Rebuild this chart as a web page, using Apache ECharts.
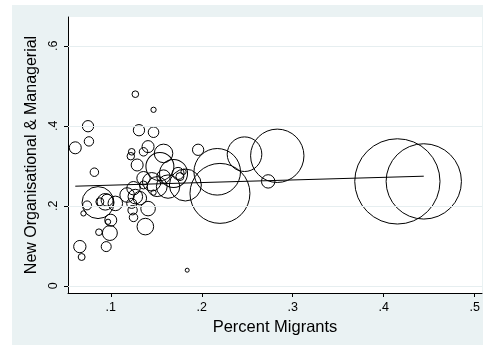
<!DOCTYPE html>
<html><head><meta charset="utf-8">
<script src="https://cdn.jsdelivr.net/npm/echarts@6/dist/echarts.min.js"></script>
<style>html,body{margin:0;padding:0;background:#fff}#c{width:483px;height:345px}</style>
</head><body><div id="c"></div>
<script>
// Percent migrants (x), New Organisational & Managerial share (y), weight (bubble area)
const migrants = [0.061,0.075,0.076,0.082,0.066,0.068,0.070,0.074,0.086,0.088,0.094,0.096,0.105,0.097,0.100,0.087,0.099,0.095,
  0.127,0.147,0.131,0.147,0.123,0.122,0.136,0.141,0.129,0.158,0.154,0.169,0.182,0.163,0.145,0.136,0.125,0.127,0.132,0.123,0.124,0.125,0.141,0.138,0.147,0.151,0.176,0.174,0.118,0.196,0.184,0.136,0.180,0.158,
  0.217,0.220,0.247,0.283,0.273,0.415,0.444];
const managerial = [0.345,0.399,0.361,0.284,0.098,0.072,0.181,0.201,0.208,0.210,0.210,0.214,0.206,0.160,0.164,0.134,0.132,0.098,
  0.479,0.440,0.389,0.384,0.335,0.324,0.335,0.348,0.302,0.331,0.298,0.281,0.252,0.248,0.260,0.269,0.244,0.223,0.219,0.206,0.189,0.171,0.193,0.148,0.233,0.248,0.273,0.281,0.227,0.340,0.039,0.252,0.285,0.273,
  0.285,0.231,0.329,0.325,0.261,0.261,0.261];
const weight = [3.6,3.2,2.2,1.8,3.8,1.2,0.7,2.0,25.6,1.6,6.9,3.6,5.3,0.7,3.6,1.1,5.6,2.5,
  1.1,0.7,3.2,2.8,1.1,1.4,1.8,3.6,3.6,8.6,19.6,19.6,25.6,13.7,8.6,4.5,4.5,5.3,4.5,2.5,2.2,1.8,5.3,6.9,0.7,10,1.6,3.6,5.3,3.2,0.4,1.6,0.7,4.5,
  54.3,90,30,71.3,4.5,182,142];
const fitX = [0.061, 0.444];
const fitY = [0.249, 0.274];
const xTicks = [0.1,0.2,0.3,0.4,0.5];
const yTicks = [0,0.2,0.4,0.6];

const pts = migrants.map((x,i)=>[x, managerial[i], weight[i]]);
const fmt = v => { let s = String(+v.toFixed(2)); return s.replace(/^0(?=\.)/,''); };

const chart = echarts.init(document.getElementById('c'), null, {renderer:'canvas'});
chart.setOption({
  animation:false,
  backgroundColor:'#ffffff',
  graphic:[{type:'rect', z:-10, shape:{x:12,y:5,width:471,height:340}, style:{fill:'#eaf2f3'}}],
  grid:{left:68, top:17, right:1, bottom:52, show:true, backgroundColor:'#ffffff', borderWidth:0},
  xAxis:{
    type:'value', min:0.053, max:0.508,
    name:'Percent Migrants', nameLocation:'middle', nameGap:19,
    nameTextStyle:{fontFamily:'Liberation Sans', fontSize:16.5, color:'#000'},
    axisLine:{show:true, onZero:false, lineStyle:{color:'#000', width:1}},
    axisTick:{show:true, customValues:xTicks, length:4, lineStyle:{color:'#000'}},
    axisLabel:{customValues:xTicks, formatter:fmt, margin:8, fontFamily:'Liberation Sans', fontSize:12.5, color:'#000'},
    splitLine:{show:false}
  },
  yAxis:{
    type:'value', min:-0.018, max:0.672,
    name:'New Organisational & Managerial', nameLocation:'middle', nameRotate:90, nameGap:18,
    nameTextStyle:{fontFamily:'Liberation Sans', fontSize:16, color:'#000'},
    axisLine:{show:true, onZero:false, lineStyle:{color:'#000', width:1}},
    axisTick:{show:true, customValues:yTicks, length:4, lineStyle:{color:'#000'}},
    axisLabel:{customValues:yTicks, formatter:fmt, rotate:90, margin:8, fontFamily:'Liberation Sans', fontSize:12.5, color:'#000'},
    splitLine:{show:false}
  },
  series:[
    {type:'line', data:yTicks.map(v=>null), silent:true, symbol:'none',
     markLine:{silent:true, symbol:'none', label:{show:false}, animation:false,
       lineStyle:{color:'#e6eef0', width:1, type:'solid'},
       data:yTicks.map(v=>({yAxis:v}))}},
    {type:'scatter', data:pts, symbol:'circle',
     symbolSize: d => 6.32*Math.sqrt(d[2]),
     itemStyle:{color:'rgba(0,0,0,0)', borderColor:'#000', borderWidth:1, opacity:1}, z:3},
    {type:'line', data:fitX.map((x,i)=>[x,fitY[i]]), symbol:'none', lineStyle:{color:'#000', width:1}, z:4}
  ]
});
</script></body></html>
